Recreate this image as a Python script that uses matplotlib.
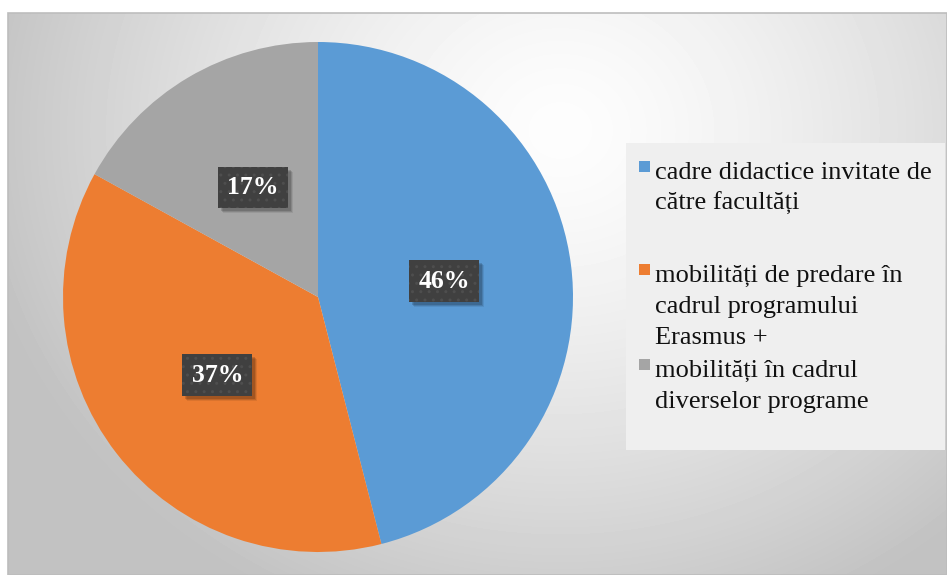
import matplotlib.pyplot as plt
import numpy as np
from matplotlib.patches import Rectangle
from matplotlib import transforms

###############################################################
# Data
###############################################################
labels = ["cadre didactice invitate de\ncătre facultăți",
          "mobilități de predare în\ncadrul programului\nErasmus +",
          "mobilități în cadrul\ndiverselor programe"]
shares = [46, 37, 17]
colors = ['#5B9BD5', '#ED7D31', '#A5A5A5']

W, H = 947, 575
serif = 'Liberation Serif'

fig = plt.figure(figsize=(W / 100, H / 100), dpi=100)

###############################################################
# Background (chart area with radial gradient) in pixel coords
###############################################################
bg = fig.add_axes([0, 0, 1, 1])
yy, xx = np.mgrid[13:H, 8:W]
d = np.sqrt(((xx - 560) / 540.0) ** 2 + ((yy - 130) / 480.0) ** 2)
shade = 253 - 52 * np.clip(d, 0, 1.1) ** 1.4
bg.imshow(shade, cmap='gray', vmin=0, vmax=255, extent=(8, W, H, 13),
          aspect='auto', interpolation='bilinear')
bg.set_xlim(0, W)
bg.set_ylim(H, 0)
bg.axis('off')
bg.add_patch(Rectangle((8, 13), W - 8, H - 13, fill=False,
                       edgecolor='#bdbdbd', lw=1.2))

# legend box
bg.add_patch(Rectangle((626, 143), 319, 307, facecolor='#efefef',
                       edgecolor='none'))
first_baselines = [179, 282, 377]
for lab, col, y0 in zip(labels, colors, first_baselines):
    bg.add_patch(Rectangle((639, y0 - 18), 11, 11, facecolor=col,
                           edgecolor='none'))
    for i, line in enumerate(lab.split('\n')):
        bg.text(655, y0 + i * 31, line, fontsize=19, family=serif,
                va='baseline', ha='left', color='#111111')

###############################################################
# Pie
###############################################################
ax = fig.add_axes([63 / W, (H - 552) / H, 510 / W, 510 / H])
wedges, texts, autotexts = ax.pie(
    shares, colors=colors, startangle=90, counterclock=False,
    autopct='%1.0f%%', pctdistance=0.5, radius=1,
    wedgeprops=dict(linewidth=0))
ax.set_xlim(-1, 1)
ax.set_ylim(-1, 1)
ax.set_aspect('equal')

for t in autotexts:
    t.set_color('white')
    t.set_fontsize(18.5)
    t.set_fontweight('bold')
    t.set_family(serif)
    t.set_zorder(4)
    t.set_bbox(dict(boxstyle='square,pad=0.36', facecolor='#404040',
                    edgecolor='#4e4e4e', hatch='..', linewidth=0))

# soft shadow under the label boxes
fig.canvas.draw()
renderer = fig.canvas.get_renderer()
for t in autotexts:
    bb = t.get_bbox_patch().get_window_extent(renderer)
    for k, a in [(5, 0.08), (4, 0.12), (3, 0.15)]:
        ax.add_patch(Rectangle((bb.x0 + k, bb.y0 - k), bb.width, bb.height,
                               transform=transforms.IdentityTransform(),
                               facecolor='black', alpha=a, linewidth=0,
                               zorder=3))

fig.savefig('out.png', dpi=100)
